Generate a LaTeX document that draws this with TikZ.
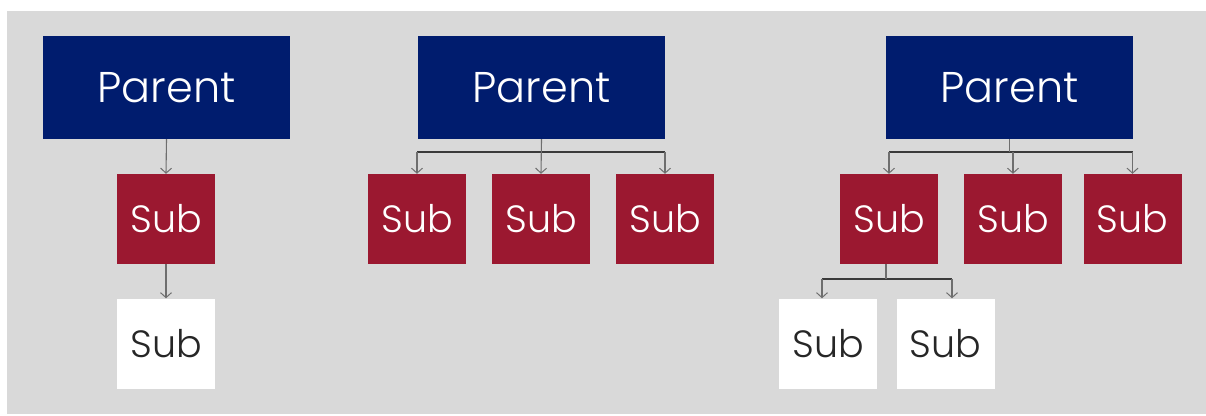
\documentclass[tikz,border=0pt]{standalone}
\usepackage{fontspec}
\setmainfont{Poppins}[UprightFont={* Light}]
\usetikzlibrary{arrows.meta,positioning}

\definecolor{navy}{HTML}{001C6E}
\definecolor{wine}{HTML}{9B1830}
\definecolor{panel}{HTML}{D9D9D9}
\definecolor{wire}{HTML}{6E6E6E}
\definecolor{buswire}{HTML}{3A3A3A}

\tikzset{
  parentbox/.style={fill=navy, text=white, minimum width=247pt, minimum height=103pt,
    inner sep=0pt, font=\fontsize{43}{50}\selectfont},
  subbox/.style={fill=wine, text=white, minimum width=98pt, minimum height=90pt,
    inner sep=0pt, font=\fontsize{38}{44}\selectfont},
  leafbox/.style={subbox, fill=white, text=black!85},
  link/.style={draw=wire, line width=1.1pt},
  bus/.style={draw=buswire, line width=1.1pt},
  arr/.style={link, -{Straight Barb[length=5pt,width=11pt,line width=1pt]}},
}

\begin{document}
\begin{tikzpicture}[x=1pt,y=-1pt]
  \useasboundingbox (0,0) rectangle (1206,415);
  \fill[panel] (7,11) rectangle (1206,414);

  % single chain
  \node[parentbox] (p1) at (166.5,87.5) {Parent};
  \node[subbox]    (s1) at (166,219) {Sub};
  \node[leafbox]   (w1) at (166,343.5) {Sub};
  \draw[arr] (p1.south) -- (s1.north);
  \draw[arr] (s1.south) -- (w1.north);

  % one parent, three children
  \node[parentbox] (p2)  at (541.5,87.5) {Parent};
  \node[subbox]    (s2a) at (417,219) {Sub};
  \node[subbox]    (s2b) at (541,219) {Sub};
  \node[subbox]    (s2c) at (665,219) {Sub};
  \coordinate (b2) at (541,152);
  \draw[bus] (s2a.north |- b2) -- (s2c.north |- b2);
  \draw[arr] (p2.south) -- (s2b.north);
  \draw[arr] (s2a.north |- b2) -- (s2a.north);
  \draw[arr] (s2c.north |- b2) -- (s2c.north);

  % one parent, three children, two grandchildren
  \node[parentbox] (p3)  at (1009.5,87.5) {Parent};
  \node[subbox]    (s3a) at (889,219) {Sub};
  \node[subbox]    (s3b) at (1013,219) {Sub};
  \node[subbox]    (s3c) at (1132.5,219) {Sub};
  \node[leafbox]   (w3a) at (828,343.5) {Sub};
  \node[leafbox]   (w3b) at (945.5,343.5) {Sub};
  \coordinate (b3) at (1009.5,152);
  \draw[bus] (s3a.north |- b3) -- (s3c.north |- b3);
  \draw[link] (p3.south) -- (p3.south |- b3);
  \draw[arr] (s3a.north |- b3) -- (s3a.north);
  \draw[arr] (s3b.north |- b3) -- (s3b.north);
  \draw[arr] (s3c.north |- b3) -- (s3c.north);

  \coordinate (b4) at (886,279);
  \coordinate (d4a) at (822,279);
  \coordinate (d4b) at (952,279);
  \draw[bus] (d4a) -- (d4b);
  \draw[link] (s3a.south -| b4) -- (b4);
  \draw[arr] (d4a) -- (d4a |- w3a.north);
  \draw[arr] (d4b) -- (d4b |- w3b.north);
\end{tikzpicture}
\end{document}
